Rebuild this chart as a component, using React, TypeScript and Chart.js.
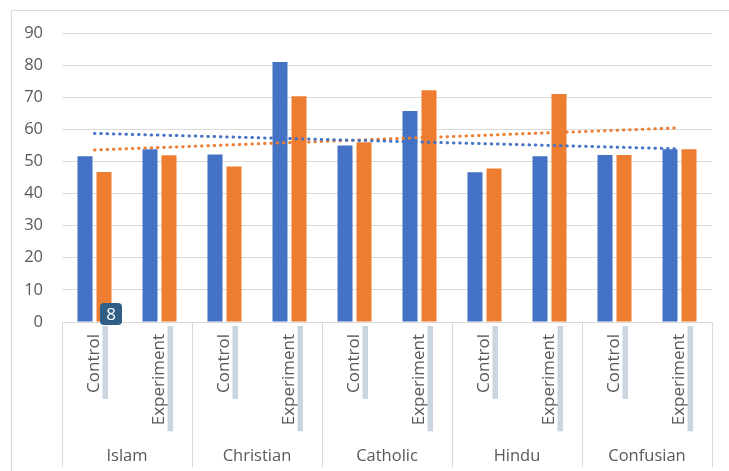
import React, { useEffect, useRef } from 'react';
import { Chart, registerables } from 'chart.js';

Chart.register(...registerables);

const groups = ['Islam', 'Christian', 'Catholic', 'Hindu', 'Confusian'];
const conditions = ['Control', 'Experiment'];
const blueValues = [51.6, 53.8, 52.2, 81.0, 55.0, 65.7, 46.6, 51.6, 52.0, 53.8];
const orangeValues = [46.7, 51.9, 48.4, 70.3, 56.0, 72.2, 47.8, 71.0, 52.0, 53.8];
const yMin = 0;
const yMax = 90;
const yStep = 10;

const BLUE = '#4472C4';
const ORANGE = '#ED7D31';
const GRID = '#d9d9d9';
const TEXT = '#595959';
const FONT = "'Open Sans', sans-serif";

const categoryLabels: string[] = [];
groups.forEach(() => conditions.forEach((c) => categoryLabels.push(c)));

// Linear trendline (least squares), as the spreadsheet trendline does.
function linearTrend(values: number[]): number[] {
  const n = values.length;
  const xs = values.map((_, i) => i + 1);
  const mx = xs.reduce((a, b) => a + b, 0) / n;
  const my = values.reduce((a, b) => a + b, 0) / n;
  let sxy = 0;
  let sxx = 0;
  for (let i = 0; i < n; i++) {
    sxy += (xs[i] - mx) * (values[i] - my);
    sxx += (xs[i] - mx) * (xs[i] - mx);
  }
  const slope = sxy / sxx;
  return xs.map((x) => my + slope * (x - mx));
}

const decorPlugin = {
  id: 'decor',
  beforeDraw(chart: any) {
    const { ctx, width, height } = chart;
    ctx.save();
    ctx.strokeStyle = GRID;
    ctx.lineWidth = 1;
    ctx.beginPath();
    ctx.moveTo(11.5, height);
    ctx.lineTo(11.5, 10.5);
    ctx.lineTo(width, 10.5);
    ctx.stroke();
    ctx.restore();
  },
  afterDraw(chart: any) {
    const { ctx, chartArea, scales, height } = chart;
    const xs = scales.x;
    ctx.save();
    // group separators
    ctx.strokeStyle = GRID;
    ctx.lineWidth = 1;
    const n = groups.length;
    const gw = (chartArea.right - chartArea.left) / n;
    for (let i = 0; i <= n; i++) {
      const px = Math.round(chartArea.left + i * gw) + 0.5;
      ctx.beginPath();
      ctx.moveTo(px, chartArea.bottom);
      ctx.lineTo(px, height - 4);
      ctx.stroke();
    }
    // highlight strips next to the rotated labels
    ctx.font = `17px ${FONT}`;
    ctx.fillStyle = '#c9d6e1';
    categoryLabels.forEach((label, i) => {
      const tw = ctx.measureText(label).width;
      const px = xs.getPixelForTick(i);
      ctx.fillRect(px + 8, chartArea.bottom + 4, 5.5, tw + 14);
    });
    ctx.restore();
  },
};

export default function App() {
  const canvasRef = useRef<HTMLCanvasElement | null>(null);

  useEffect(() => {
    if (!canvasRef.current) return;
    const blueTrend = linearTrend(blueValues);
    const orangeTrend = linearTrend(orangeValues);
    const chart = new Chart(canvasRef.current, {
      type: 'bar',
      data: {
        labels: categoryLabels,
        datasets: [
          {
            type: 'line',
            label: 'Trend 1',
            data: blueTrend,
            borderColor: BLUE,
            borderWidth: 3,
            borderDash: [0.5, 5.8],
            borderCapStyle: 'round',
            pointRadius: 0,
            fill: false,
            order: 0,
          } as any,
          {
            type: 'line',
            label: 'Trend 2',
            data: orangeTrend,
            borderColor: ORANGE,
            borderWidth: 3,
            borderDash: [0.5, 5.8],
            borderCapStyle: 'round',
            pointRadius: 0,
            fill: false,
            order: 0,
          } as any,
          {
            label: 'Series 1',
            data: blueValues,
            backgroundColor: BLUE,
            borderWidth: 0,
            categoryPercentage: 0.585,
            barPercentage: 0.79,
            order: 1,
          },
          {
            label: 'Series 2',
            data: orangeValues,
            backgroundColor: ORANGE,
            borderWidth: 0,
            categoryPercentage: 0.585,
            barPercentage: 0.79,
            order: 1,
          },
        ],
      },
      options: {
        animation: false,
        responsive: true,
        maintainAspectRatio: false,
        layout: { padding: { left: 11, right: 17, top: 33, bottom: 0 } },
        plugins: {
          legend: { display: false },
          tooltip: { enabled: false },
        },
        scales: {
          y: {
            min: yMin,
            max: yMax,
            ticks: {
              stepSize: yStep,
              color: TEXT,
              font: { family: FONT, size: 16.5 },
              padding: 19,
            },
            grid: { color: GRID, drawTicks: false, lineWidth: 1 },
            border: { display: false },
            afterFit(scale: any) {
              scale.width = 51;
            },
          },
          x: {
            type: 'category',
            offset: true,
            weight: 0,
            ticks: {
              autoSkip: false,
              minRotation: 90,
              maxRotation: 90,
              color: TEXT,
              font: { family: FONT, size: 17 },
              padding: 12,
            },
            grid: { display: false, drawTicks: false },
            border: { display: true, color: GRID },
            afterFit(scale: any) {
              scale.height = 118;
            },
          },
          x2: {
            type: 'category',
            position: 'bottom',
            labels: groups,
            offset: true,
            weight: 1,
            ticks: {
              autoSkip: false,
              maxRotation: 0,
              color: TEXT,
              font: { family: FONT, size: 16.5 },
              padding: 6,
            },
            grid: { display: false, drawTicks: false },
            border: { display: false },
            afterFit(scale: any) {
              scale.height = 31;
            },
          },
        },
      },
      plugins: [decorPlugin],
    });
    return () => chart.destroy();
  }, []);

  return (
    <div style={{ position: 'fixed', left: 0, top: 0, width: 729, height: 471, background: '#fff' }}>
      <canvas ref={canvasRef} />
      <div
        style={{
          position: 'absolute',
          left: 100,
          top: 303,
          width: 22,
          height: 22,
          borderRadius: 4,
          background: '#2f5f86',
          color: '#fff',
          fontFamily: FONT,
          fontSize: 17,
          lineHeight: '22px',
          textAlign: 'center',
        }}
      >
        8
      </div>
    </div>
  );
}
